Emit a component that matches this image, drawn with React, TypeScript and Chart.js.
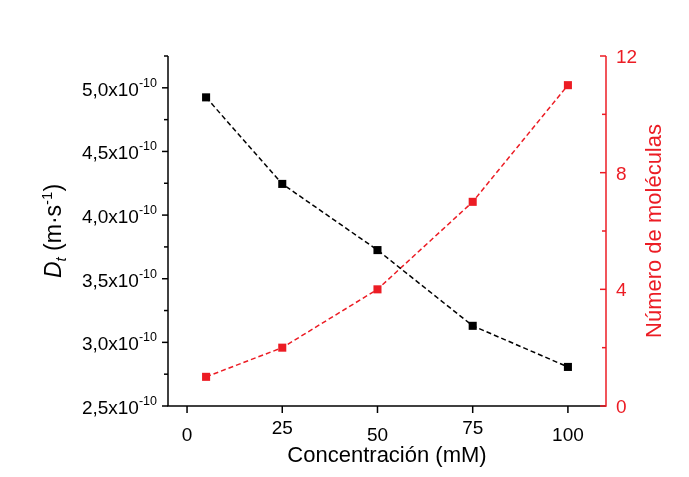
import React, { useEffect, useRef } from "react";
import { Chart, registerables } from "chart.js";

Chart.register(...registerables);

// ---- data ----
const concentrations = [5, 25, 50, 75, 100];
const diffusion = [4.925e-10, 4.245e-10, 3.725e-10, 3.13e-10, 2.807e-10];
const molecules = [1, 2, 4, 7, 11];

const xTicks = [0, 25, 50, 75, 100];
const xTickLabels = ["0", "25", "50", "75", "100"];
const leftTicks = [2.5e-10, 3.0e-10, 3.5e-10, 4.0e-10, 4.5e-10, 5.0e-10];
const leftTickLabels = ["2,5x10", "3,0x10", "3,5x10", "4,0x10", "4,5x10", "5,0x10"];
const leftMinorTicks = [2.75e-10, 3.25e-10, 3.75e-10, 4.25e-10, 4.75e-10, 5.25e-10];
const rightTicks = [0, 4, 8, 12];
const rightTickLabels = ["0", "4", "8", "12"];
const rightMinorTicks = [2, 6, 10];

const xTitle = "Concentración (mM)";
const rightTitle = "Número de moléculas";

const BLACK = "#000000";
const RED = "#EC1C24";
const FONT = "'Liberation Sans', Arial, sans-serif";

const axesPlugin = {
  id: "originAxes",
  afterDraw(chart: any) {
    const ctx: CanvasRenderingContext2D = chart.ctx;
    const { left, right, top, bottom } = chart.chartArea;
    const xs = chart.scales.x;
    const yl = chart.scales.y;
    const yr = chart.scales.y1;
    ctx.save();
    ctx.lineWidth = 1.5;
    ctx.lineCap = "butt";

    // bottom axis
    ctx.strokeStyle = BLACK;
    ctx.beginPath();
    ctx.moveTo(left - 0.75, bottom);
    ctx.lineTo(right, bottom);
    ctx.stroke();
    xTicks.forEach((v) => {
      const px = xs.getPixelForValue(v);
      ctx.beginPath();
      ctx.moveTo(px, bottom);
      ctx.lineTo(px, bottom + 7);
      ctx.stroke();
    });
    ctx.fillStyle = BLACK;
    ctx.font = `19px ${FONT}`;
    ctx.textAlign = "center";
    ctx.textBaseline = "alphabetic";
    xTicks.forEach((v, i) => {
      const px = xs.getPixelForValue(v);
      const by = i % 2 === 1 ? bottom + 28 : bottom + 35;
      ctx.fillText(xTickLabels[i], px, by);
    });
    ctx.font = `22px ${FONT}`;
    ctx.fillText(xTitle, (left + right) / 2, bottom + 56);

    // left axis
    ctx.beginPath();
    ctx.moveTo(left, top);
    ctx.lineTo(left, bottom);
    ctx.stroke();
    leftTicks.forEach((v) => {
      const py = yl.getPixelForValue(v);
      ctx.beginPath();
      ctx.moveTo(left, py);
      ctx.lineTo(left - 6, py);
      ctx.stroke();
    });
    leftMinorTicks.forEach((v) => {
      const py = yl.getPixelForValue(v);
      ctx.beginPath();
      ctx.moveTo(left, py);
      ctx.lineTo(left - 4, py);
      ctx.stroke();
    });
    ctx.textAlign = "right";
    leftTicks.forEach((v, i) => {
      const py = yl.getPixelForValue(v);
      const endX = left - 11;
      ctx.font = `12.5px ${FONT}`;
      const sup = "-10";
      const sw = ctx.measureText(sup).width;
      ctx.fillText(sup, endX, py - 1);
      ctx.font = `19px ${FONT}`;
      ctx.fillText(leftTickLabels[i], endX - sw, py + 8);
    });

    // left title: D_t (m·s^-1)
    {
      const parts = [
        { t: "D", f: `italic 23px ${FONT}`, dy: 0 },
        { t: "t", f: `italic 15px ${FONT}`, dy: 5 },
        { t: " (m·s", f: `23px ${FONT}`, dy: 0 },
        { t: "-1", f: `15px ${FONT}`, dy: -9 },
        { t: ")", f: `23px ${FONT}`, dy: 0 },
      ];
      let total = 0;
      const widths = parts.map((p) => {
        ctx.font = p.f;
        const w = ctx.measureText(p.t).width;
        total += w;
        return w;
      });
      ctx.save();
      ctx.translate(61, (top + bottom) / 2);
      ctx.rotate(-Math.PI / 2);
      ctx.textAlign = "left";
      let x = -total / 2;
      parts.forEach((p, i) => {
        ctx.font = p.f;
        ctx.fillText(p.t, x, p.dy);
        x += widths[i];
      });
      ctx.restore();
    }

    // right axis (red)
    ctx.strokeStyle = RED;
    ctx.fillStyle = RED;
    ctx.beginPath();
    ctx.moveTo(right, top);
    ctx.lineTo(right, bottom + 0.75);
    ctx.stroke();
    rightTicks.forEach((v) => {
      const py = yr.getPixelForValue(v);
      ctx.beginPath();
      ctx.moveTo(right, py);
      ctx.lineTo(right - 6, py);
      ctx.stroke();
    });
    rightMinorTicks.forEach((v) => {
      const py = yr.getPixelForValue(v);
      ctx.beginPath();
      ctx.moveTo(right, py);
      ctx.lineTo(right - 4, py);
      ctx.stroke();
    });
    ctx.font = `19px ${FONT}`;
    ctx.textAlign = "left";
    rightTicks.forEach((v, i) => {
      const py = yr.getPixelForValue(v);
      ctx.fillText(rightTickLabels[i], right + 10, py + 7);
    });
    ctx.save();
    ctx.translate(661, (top + bottom) / 2);
    ctx.rotate(-Math.PI / 2);
    ctx.textAlign = "center";
    ctx.font = `22px ${FONT}`;
    ctx.fillText(rightTitle, 0, 0);
    ctx.restore();

    ctx.restore();
  },
};

export default function App() {
  const canvasRef = useRef<HTMLCanvasElement | null>(null);

  useEffect(() => {
    const canvas = canvasRef.current;
    if (!canvas) return;
    const chart = new Chart(canvas, {
      type: "line",
      data: {
        datasets: [
          {
            label: "Dt",
            data: concentrations.map((c, i) => ({ x: c, y: diffusion[i] })),
            yAxisID: "y",
            borderColor: BLACK,
            backgroundColor: BLACK,
            borderWidth: 1.5,
            borderDash: [5, 3],
            pointStyle: "rect",
            pointRadius: 5.7,
            pointBorderWidth: 0,
            tension: 0,
          },
          {
            label: "N",
            data: concentrations.map((c, i) => ({ x: c, y: molecules[i] })),
            yAxisID: "y1",
            borderColor: RED,
            backgroundColor: RED,
            borderWidth: 1.5,
            borderDash: [5, 3],
            pointStyle: "rect",
            pointRadius: 5.7,
            pointBorderWidth: 0,
            tension: 0,
          },
        ],
      },
      options: {
        responsive: false,
        animation: false,
        events: [],
        layout: { padding: { left: 168, right: 83, top: 56, bottom: 71 } },
        plugins: { legend: { display: false }, tooltip: { enabled: false } },
        scales: {
          x: { type: "linear", display: false, min: -5, max: 110 },
          y: { type: "linear", display: false, min: 2.5e-10, max: 5.25e-10 },
          y1: { type: "linear", display: false, min: 0, max: 12 },
        },
      },
      plugins: [axesPlugin],
    });
    return () => chart.destroy();
  }, []);

  return (
    <div style={{ position: "absolute", left: 0, top: 0, width: 689, height: 477, background: "#fff" }}>
      <canvas ref={canvasRef} width={689} height={477} style={{ display: "block" }} />
    </div>
  );
}
